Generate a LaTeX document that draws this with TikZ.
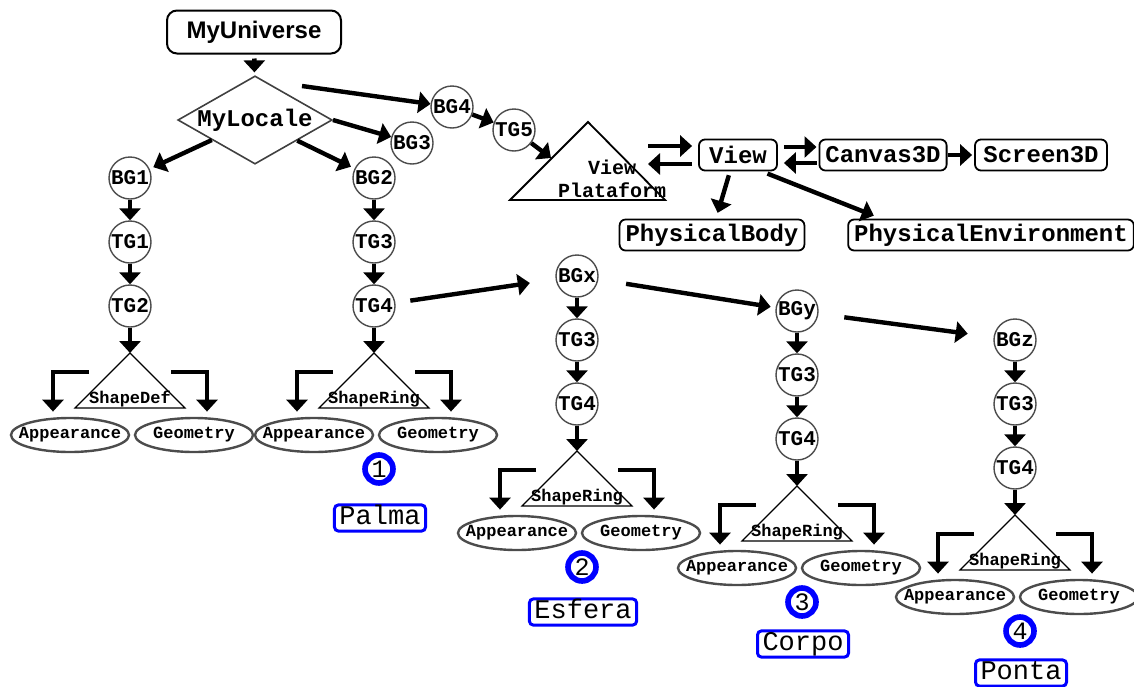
\documentclass[tikz,border=0pt]{standalone}
\usepackage{fontspec}
\newfontfamily\monof{Liberation Mono}
\newfontfamily\sansf{Liberation Sans}
\usetikzlibrary{arrows.meta,shapes.geometric}

\begin{document}
\begin{tikzpicture}[x=0.5pt,y=-0.5pt,
  grp/.style={circle, draw=black!70, line width=0.7pt, minimum size=21pt, inner sep=0pt,
    font=\monof\bfseries\fontsize{10.5}{11}\selectfont},
  arr/.style={line width=2.2pt, -{Triangle[length=6pt,width=10.5pt]}},
  box/.style={draw, rounded corners=3pt, line width=0.9pt, minimum height=15.5pt,
    inner xsep=3pt, inner ysep=0pt, font=\monof\bfseries\fontsize{12}{14}\selectfont},
  tri/.style={draw, line width=0.6pt},
  shtxt/.style={inner sep=0pt, font=\monof\bfseries\fontsize{8.5}{10}\selectfont},
  elltxt/.style={minimum width=59pt, minimum height=17pt, inner sep=0pt,
    font=\monof\bfseries\fontsize{8.5}{10}\selectfont},
  ell/.style={draw=black!70, line width=1.2pt},
  num/.style={circle, draw=blue, line width=2.8pt, minimum size=14pt, inner sep=0pt,
    font=\monof\fontsize{12.5}{12.5}\selectfont},
  tag/.style={draw=blue, line width=1.5pt, rounded corners=2pt, inner xsep=2.5pt,
    inner ysep=0.8pt, text height=9pt, text depth=2.5pt,
    font=\monof\fontsize{13.5}{14}\selectfont}]
\useasboundingbox (0,0) rectangle (1134,686);

% topo do grafo
\node[draw, rounded corners=5pt, line width=1pt, minimum width=87pt, minimum height=21.5pt,
  font=\sansf\bfseries\fontsize{12}{14}\selectfont] (uni) at (254,32) {MyUniverse};
\node[diamond, draw=black!75, line width=0.8pt, aspect=1.75, minimum width=74.5pt,
  minimum height=42.5pt, inner sep=0pt,
  font=\monof\bfseries\fontsize{12}{14}\selectfont] (loc) at (255,120) {MyLocale};
\node[grp] (bgthree) at (412,143) {BG3};
\node[grp] (bgfour) at (452,107) {BG4};
\node[grp] (tgfive) at (514,130) {TG5};

% ramo de visualizacao
\coordinate (vptop) at (588,122);
\draw[tri, line width=0.9pt] (vptop) -- (510,200) -- (665,200) -- cycle;
\node[align=center, inner sep=0pt, font=\monof\bfseries\fontsize{10}{11.5}\selectfont]
  (vp) at (612,179) {View\\Plataform};
\node[box, minimum width=39pt] (view) at (738,155) {View};
\node[box] (canvas) at (883,155) {Canvas3D};
\node[box, minimum width=66pt] (screen) at (1041,155) {Screen3D};
\node[box] (pbody) at (712,235) {PhysicalBody};
\node[box] (penv) at (991,235) {PhysicalEnvironment};

% sub-arvores de conteudo
\foreach \i/\x/\y/\ta/\tb/\tc/\sh in {0/130/178/BG1/TG1/TG2/ShapeDef,
    1/374/178/BG2/TG3/TG4/ShapeRing, 2/577/276/BGx/TG3/TG4/ShapeRing,
    3/797/311/BGy/TG3/TG4/ShapeRing, 4/1015/340/BGz/TG3/TG4/ShapeRing}{
  \node[grp] (top\i) at (\x,\y) {\ta};
  \node[grp] (mid\i) at (\x,\y+64) {\tb};
  \node[grp] (low\i) at (\x,\y+128) {\tc};
  \coordinate (apex\i) at (\x,\y+175);
  \draw[tri] (apex\i) -- ++(-55,55) -- ++(110,0) -- cycle;
  \node[shtxt] (shape\i) at (\x,\y+221) {\sh};
  \node[elltxt] (app\i) at (\x-60,\y+257) {Appearance};
  \node[elltxt] (geo\i) at (\x+64,\y+257) {Geometry};
  \draw[ell] (app\i) ellipse (29.5pt and 8.5pt);
  \draw[ell] (geo\i) ellipse (29.5pt and 8.5pt);
  \coordinate (la\i) at (\x-41,\y+194);
  \coordinate (ra\i) at (\x+41,\y+194);
  \draw[arr] (top\i) -- (mid\i);
  \draw[arr] (mid\i) -- (low\i);
  \draw[arr] (low\i) -- (apex\i);
  \draw[arr, shorten >=3pt] (la\i) -| ([xshift=-8.5pt]app\i.north);
  \draw[arr, shorten >=3pt] (ra\i) -| ([xshift=6.5pt]geo\i.north);
}

% objetos numerados
\foreach \i/\nm/\dy in {1/Palma/170, 2/Esfera/168, 3/Corpo/166.5, 4/Ponta/166.5}{
  \node[num] (num\i) at ([xshift=2.5pt,yshift=-145.5pt]top\i) {\i};
  \node[tag] (tag\i) at ([xshift=3pt,yshift=-\dy pt]top\i) {\nm};
}

% ligacoes
\coordinate (locout) at (302,86);
\coordinate (vpin) at (551,158);
\coordinate (vpa) at (648,146);
\coordinate (vpb) at (648,164);
\draw[arr, shorten <=2pt, shorten >=1.5pt] (uni) -- (loc);
\draw[arr, shorten >=2pt] (loc) -- (top0);
\draw[arr, shorten >=2pt] (loc) -- (top1);
\draw[arr] (loc.east) -- (bgthree);
\draw[arr] (locout) -- (bgfour);
\draw[arr] (bgfour) -- (tgfive);
\draw[arr] (tgfive) -- (vpin);
\draw[arr, shorten >=3pt] (vpa) -- (vpa -| view.west);
\draw[arr, shorten <=3pt] (vpb -| view.west) -- (vpb);
\draw[arr, shorten <=3pt, shorten >=1pt] ([yshift=4pt]view.east) -- ([yshift=4pt]canvas.west);
\draw[arr, shorten <=1pt, shorten >=3pt] ([yshift=-4pt]canvas.west) -- ([yshift=-4pt]view.east);
\draw[arr, shorten >=1pt] (canvas) -- (screen);
\draw[arr, shorten <=2pt, shorten >=3pt] ([xshift=-4pt]view.south) -- ([xshift=2pt]pbody.north);
\draw[arr, shorten <=3pt, shorten >=4pt] ([xshift=-8pt]view.south east) -- ([xshift=17pt]penv.north west);
\draw[arr, shorten <=7.5pt, shorten >=13pt] (low1) -- (top2);
\draw[arr, shorten <=14pt, shorten >=2.5pt] (top2) -- (top3);
\draw[arr, shorten <=13pt, shorten >=13pt] (top3) -- (top4);
\end{tikzpicture}
\end{document}
